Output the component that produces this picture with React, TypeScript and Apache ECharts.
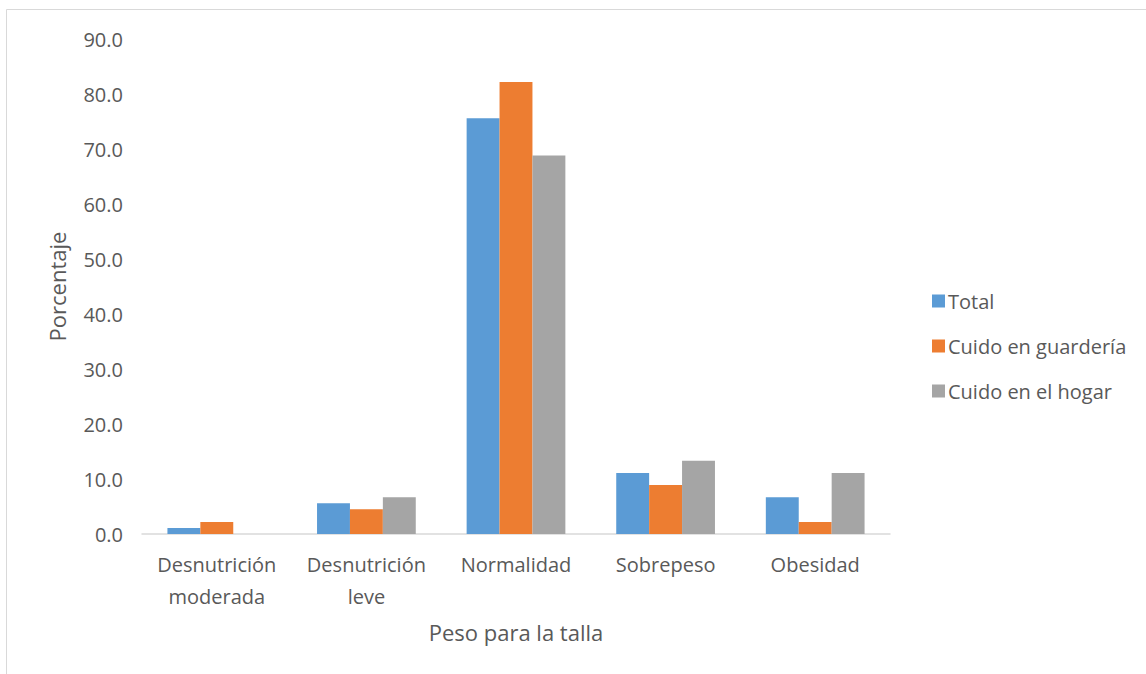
import React, { useEffect, useRef } from "react";
import * as echarts from "echarts";

const categories = ["Desnutrición\nmoderada", "Desnutrición\nleve", "Normalidad", "Sobrepeso", "Obesidad"];
const totalValues = [1.1, 5.6, 75.6, 11.1, 6.7];
const guarderiaValues = [2.2, 4.5, 82.2, 8.9, 2.2];
const hogarValues = [0, 6.7, 68.8, 13.3, 11.1];
const seriesNames = ["Total", "Cuido en guardería", "Cuido en el hogar"];
const colors = ["#5b9bd5", "#ed7d31", "#a5a5a5"];

const FONT = "'Open Sans', 'Noto Sans', sans-serif";

export default function App() {
  const ref = useRef<HTMLDivElement>(null);
  useEffect(() => {
    document.body.style.margin = "0";
    const chart = echarts.init(ref.current!, null, { renderer: "svg" });
    chart.setOption({
      animation: false,
      backgroundColor: "#ffffff",
      textStyle: { fontFamily: FONT },
      graphic: [
        {
          type: "rect",
          shape: { x: 6.5, y: 9.5, width: 1200, height: 700 },
          style: { fill: "none", stroke: "#d9d9d9", lineWidth: 1 },
          silent: true,
        },
      ],
      grid: { left: 142, right: 256, top: 39, bottom: 140, containLabel: false },
      legend: {
        orient: "vertical",
        left: 927,
        top: 286,
        itemWidth: 13,
        itemHeight: 13,
        itemGap: 25,
        icon: "rect",
        data: seriesNames,
        textStyle: { fontFamily: FONT, fontSize: 20, color: "#595959", padding: [0, 0, 0, -2] },
      },
      xAxis: {
        type: "category",
        data: categories,
        name: "Peso para la talla",
        nameLocation: "middle",
        nameGap: 87,
        nameTextStyle: { fontFamily: FONT, fontSize: 22, color: "#595959" },
        axisLine: { lineStyle: { color: "#d9d9d9", width: 1.5 } },
        axisTick: { show: false },
        axisLabel: { fontFamily: FONT, fontSize: 20, color: "#595959", margin: 14, lineHeight: 32, interval: 0 },
      },
      yAxis: {
        type: "value",
        min: 0,
        max: 90,
        interval: 10,
        name: "Porcentaje",
        nameLocation: "middle",
        nameGap: 74,
        nameTextStyle: { fontFamily: FONT, fontSize: 22, color: "#595959" },
        axisLine: { show: false },
        axisTick: { show: false },
        splitLine: { show: false },
        axisLabel: {
          fontFamily: FONT,
          fontSize: 20,
          color: "#595959",
          margin: 19,
          formatter: (v: number) => v.toFixed(1),
        },
      },
      series: [
        { name: seriesNames[0], type: "bar", data: totalValues, itemStyle: { color: colors[0] }, barGap: "0%", barCategoryGap: "34%" },
        { name: seriesNames[1], type: "bar", data: guarderiaValues, itemStyle: { color: colors[1] }, barGap: "0%", barCategoryGap: "34%" },
        { name: seriesNames[2], type: "bar", data: hogarValues, itemStyle: { color: colors[2] }, barGap: "0%", barCategoryGap: "34%" },
      ],
    });
    return () => chart.dispose();
  }, []);
  return <div ref={ref} style={{ width: 1146, height: 674 }} />;
}
